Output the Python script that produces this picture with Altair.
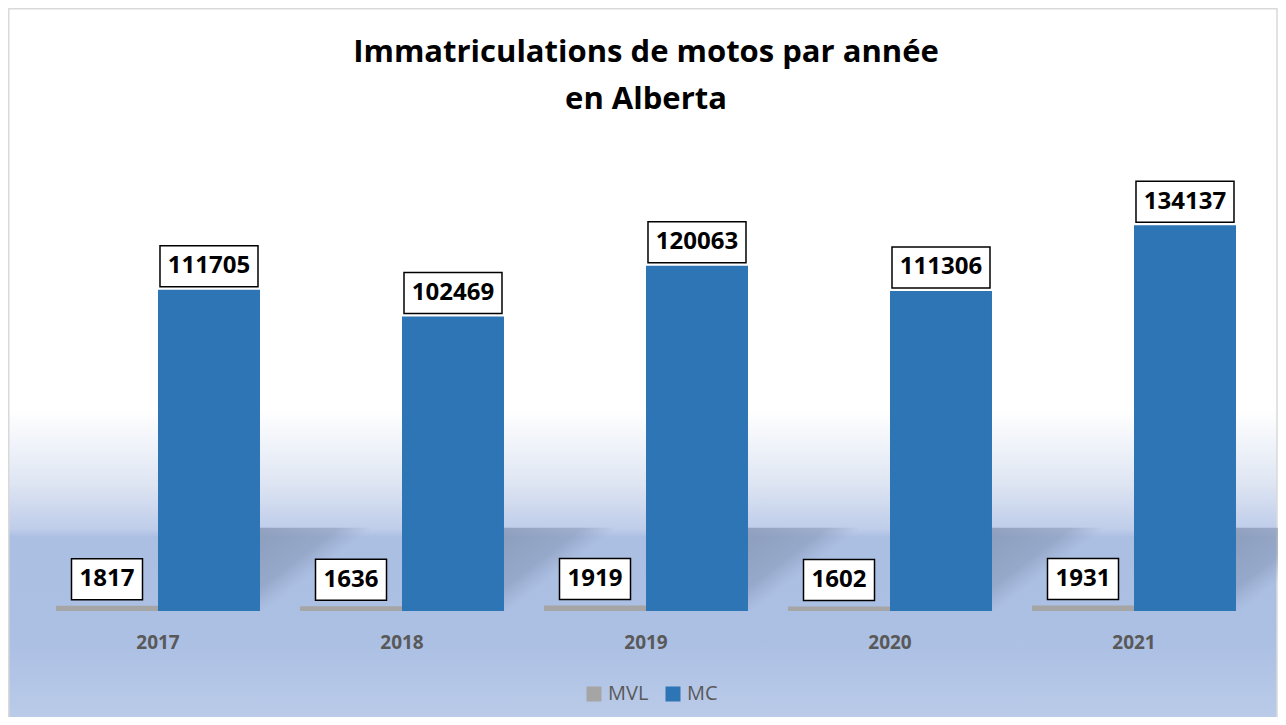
import altair as alt
import pandas as pd

years = ["2017", "2018", "2019", "2020", "2021"]
mvl = [1817, 1636, 1919, 1602, 1931]
mc = [111705, 102469, 120063, 111306, 134137]
series = ["MVL", "MC"]
colors = ["#a5a5a5", "#2e75b6"]
title_lines = ["Immatriculations de motos par année", "en Alberta"]

rows = []
for i, yr in enumerate(years):
    rows.append({"year": yr, "series": "MVL", "value": mvl[i]})
    rows.append({"year": yr, "series": "MC", "value": mc[i]})
df = pd.DataFrame(rows)

FONT = "Open Sans"
W, H = 1220, 460

xenc = alt.X("year:N", sort=years,
             scale=alt.Scale(paddingInner=0.164, paddingOuter=0.082),
             axis=alt.Axis(title=None, labelAngle=0, domain=False, ticks=False,
                           labelFont=FONT, labelFontWeight="bold", labelFontSize=19,
                           labelColor="#595959", labelPadding=22, zindex=1))
xoff = alt.XOffset("series:N", sort=series, scale=alt.Scale(paddingInner=0, paddingOuter=0))
yscale = alt.Scale(domain=[0, 160000])
yenc = alt.Y("value:Q", scale=yscale, axis=None)

bg_grad = {
    "gradient": "linear", "x1": 0, "y1": 0, "x2": 0, "y2": 1,
    "stops": [
        {"offset": 0.0, "color": "#ffffff"},
        {"offset": 0.56, "color": "#ffffff"},
        {"offset": 0.66, "color": "#dfe6f3"},
        {"offset": 0.725, "color": "#bfcdea"},
        {"offset": 0.737, "color": "#abbfe3"},
        {"offset": 0.885, "color": "#acc0e4"},
        {"offset": 1.0, "color": "#bccce9"},
    ],
}
shadow_grad = {
    "gradient": "linear", "x1": 0, "y1": 0, "x2": 1, "y2": 1,
    "stops": [
        {"offset": 0.0, "color": "rgba(122,138,168,0.65)"},
        {"offset": 0.36, "color": "rgba(130,146,176,0.5)"},
        {"offset": 0.52, "color": "rgba(140,158,190,0.0)"},
        {"offset": 1.0, "color": "rgba(140,158,190,0.0)"},
    ],
}

base = alt.Chart(df)

bg = alt.Chart(pd.DataFrame({"k": [0]})).mark_rect(
    fill=bg_grad, stroke="#d9d9d9", strokeWidth=1.5
).encode(x=alt.value(-27.25), x2=alt.value(1241), y=alt.value(-142.25), y2=alt.value(575))

shadow = base.transform_filter(alt.datum.series == "MC").mark_bar(
    width=110, xOffset=157, fill=shadow_grad
).encode(x=xenc, y=alt.Y(datum=0, type="quantitative", scale=yscale, axis=None),
         y2=alt.Y2(datum=29000))

bars = base.mark_bar().encode(
    x=xenc, xOffset=xoff, y=yenc,
    color=alt.Color("series:N", scale=alt.Scale(domain=series, range=colors),
                    legend=alt.Legend(title=None, orient="none", legendX=548, legendY=533,
                                      direction="horizontal", symbolType="square",
                                      symbolSize=225, symbolStrokeWidth=0,
                                      labelFont=FONT, labelFontSize=20, labelColor="#595959",
                                      labelOffset=4, columnPadding=14)),
)

mc_box = base.transform_filter(alt.datum.series == "MC").mark_bar(
    width=98, fill="white", stroke="black", strokeWidth=1.5, yOffset=-44, y2Offset=-3
).encode(x=xenc, xOffset=xoff, y=yenc, y2="value:Q")

mvl_box = base.transform_filter(alt.datum.series == "MVL").mark_bar(
    width=71, fill="white", stroke="black", strokeWidth=1.5, yOffset=-47, y2Offset=-6
).encode(x=xenc, xOffset=xoff, y=yenc, y2="value:Q")

mc_txt = base.transform_filter(alt.datum.series == "MC").mark_text(
    font=FONT, fontWeight="bold", fontSize=24, color="black", baseline="middle", dy=-23.5
).encode(x=xenc, xOffset=xoff, y=yenc, text=alt.Text("value:Q", format="d"))

mvl_txt = base.transform_filter(alt.datum.series == "MVL").mark_text(
    font=FONT, fontWeight="bold", fontSize=24, color="black", baseline="middle", dy=-26.5
).encode(x=xenc, xOffset=xoff, y=yenc, text=alt.Text("value:Q", format="d"))

chart = alt.layer(bg, shadow, bars, mc_box, mvl_box, mc_txt, mvl_txt).properties(
    width=W, height=H,
    autosize=alt.AutoSizeParams(type="none"),
    padding={"left": 28, "top": 143, "right": 22, "bottom": 106},
    title=alt.TitleParams(text=title_lines, font=FONT, fontSize=31, fontWeight="bold",
                          color="black", anchor="middle", frame="group", baseline="top",
                          lineHeight=47, offset=-108),
).configure_view(stroke=None).configure(background="white")

chart.save("out.html", embed_options={"renderer": "svg", "actions": False})
